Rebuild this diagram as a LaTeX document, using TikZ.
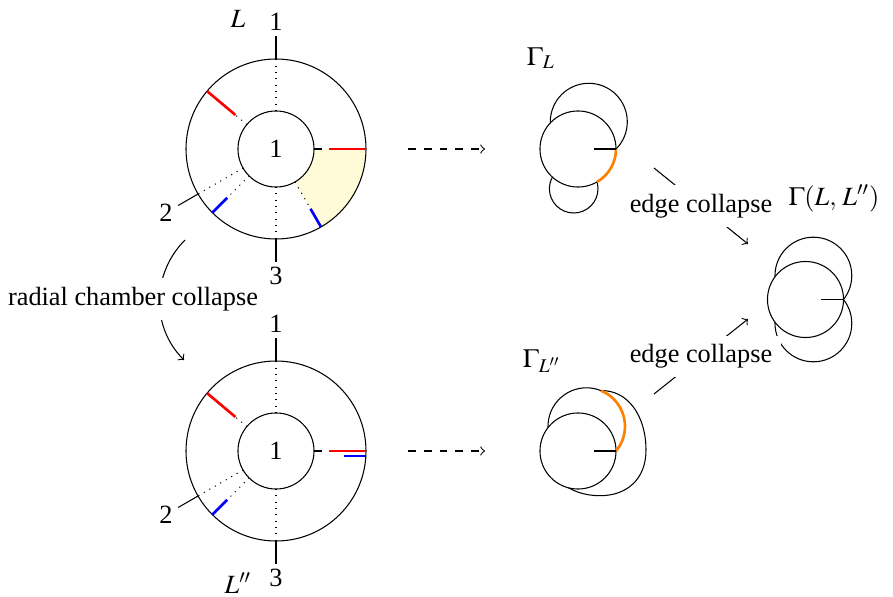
\documentclass[tikz,border=0pt]{standalone}
\usepackage{mathptmx}
\usepackage{fontspec}
\setmainfont{Liberation Serif}
\usetikzlibrary{positioning,calc}
\definecolor{chYellow}{RGB}{255,250,215}

\begin{document}
\begin{tikzpicture}[
    x=0.38pt, y=0.38pt,
    hub/.style={circle, draw, fill=white, minimum size=28.9pt, inner sep=0pt, outer sep=0pt},
    spoke/.style={dotted},
    red leg/.style={red, line width=1pt},
    blue leg/.style={blue, line width=1pt},
    chamber/.style={fill=chYellow},
    contracted/.style={orange, line width=1pt},
    collapse note/.style={fill=white}
]
  \useasboundingbox (0,0) rectangle (893,596);

  \begin{scope}[shift={(276,447)}]
    \fill[chamber] (0:38) arc (0:-60:38) -- (-60:90) arc (-60:0:90) -- cycle;
    \draw (0,0) circle (90);
    \node[hub] (hubL) at (0,0) {1};
    \draw[spoke] (90:38) -- (90:90);
    \draw[spoke] (270:38) -- (270:90);
    \draw[spoke] (210:38) -- (210:90);
    \draw[spoke] (140:38) -- (140:53);
    \draw[spoke] (225:38) -- (225:69);
    \draw[spoke] (300:38) -- (300:69);
    \draw (0:38) -- (0:46);
    \draw[red leg] (140:53) -- (140:90);
    \draw[red leg] (0:53) -- (0:90);
    \draw[blue leg] (225:69) -- (225:90);
    \draw[blue leg] (300:69) -- (300:90);
    \draw (90:90) -- (90:113);
    \draw (210:90) -- (210:113);
    \draw (270:90) -- (270:113);
    \node (oneL) at (90:127) {1};
    \node (twoL) at (210:127) {2};
    \node (threeL) at (270:127) {3};
  \end{scope}
  \node[anchor=base] (nameL) at (238,569) {$L$};

  \begin{scope}[shift={(276,145)}]
    \draw (0,0) circle (90);
    \node[hub] (hubLpp) at (0,0) {1};
    \draw[spoke] (90:38) -- (90:90);
    \draw[spoke] (270:38) -- (270:90);
    \draw[spoke] (210:38) -- (210:90);
    \draw[spoke] (140:38) -- (140:53);
    \draw[spoke] (225:38) -- (225:69);
    \draw (0:38) -- (0:46);
    \draw[red leg] (140:53) -- (140:90);
    \draw[red leg] (0:53) -- (0:90);
    \draw[blue leg] (225:69) -- (225:90);
    \draw[blue leg] (68,-5) -- (90,-5);
    \draw (90:90) -- (90:113);
    \draw (210:90) -- (210:113);
    \draw (270:90) -- (270:113);
    \node (oneLpp) at (90:127) {1};
    \node (twoLpp) at (210:127) {2};
    \node (threeLpp) at (270:127) {3};
  \end{scope}
  \node[anchor=base] (nameLpp) at (238,3) {$L''$};

  \coordinate (radS) at (185,356);
  \coordinate (radE) at (184,236);
  \draw[->] (radS) to[out=225, in=135] (radE);
  \node[collapse note] (radial) at (133,297) {radial chamber collapse};

  \coordinate (dashTopS) at (408,447);
  \coordinate (dashTopE) at (485,447);
  \draw[->, dashed] (dashTopS) -- (dashTopE);
  \coordinate (dashBotS) at (408,145);
  \coordinate (dashBotE) at (485,145);
  \draw[->, dashed] (dashBotS) -- (dashBotE);

  \draw (588.8,474.2) circle (38.5);
  \draw (573.7,407.3) circle (24.3);
  \node[hub] (gamL) at (578,447) {};
  \draw[contracted] (gamL.east) arc (0:-60:38);
  \draw (594,447) -- (gamL.east);
  \node[anchor=base] (gamLname) at (541,531) {$\Gamma_L$};

  \draw (600.9,205.4) .. controls (628,206) and (646,180) .. (646,146)
    .. controls (646,116) and (626,100.3) .. (600,100.3)
    .. controls (584,100.3) and (570,105) .. (556,117);
  \draw (586.5,169.7) circle (38.5);
  \node[hub] (gamLpp) at (578,145) {};
  \draw[contracted] (586.5,169.7) ++(68:38.5) arc (68:-40:38.5);
  \draw (594,145) -- (gamLpp.east);
  \node[anchor=base] (gamLppname) at (542,229) {$\Gamma_{L''}$};

  \draw (813.4,320.4) circle (38.4);
  \draw (813.4,272.6) circle (38.4);
  \node[hub] (gamLLpp) at (805.5,296.5) {};
  \draw (820.7,296.5) -- (gamLLpp.east);
  \node[anchor=base] (gamLLppname) at (834,391) {$\Gamma(L,\,L'')$};

  \coordinate (ecTopS) at (654,428);
  \coordinate (ecTopE) at (748,352);
  \draw[->] (ecTopS) -- node[collapse note] (ecTop) {edge collapse} (ecTopE);
  \coordinate (ecBotS) at (654,202);
  \coordinate (ecBotE) at (748,277);
  \draw[->] (ecBotS) -- node[collapse note] (ecBot) {edge collapse} (ecBotE);
\end{tikzpicture}
\end{document}
